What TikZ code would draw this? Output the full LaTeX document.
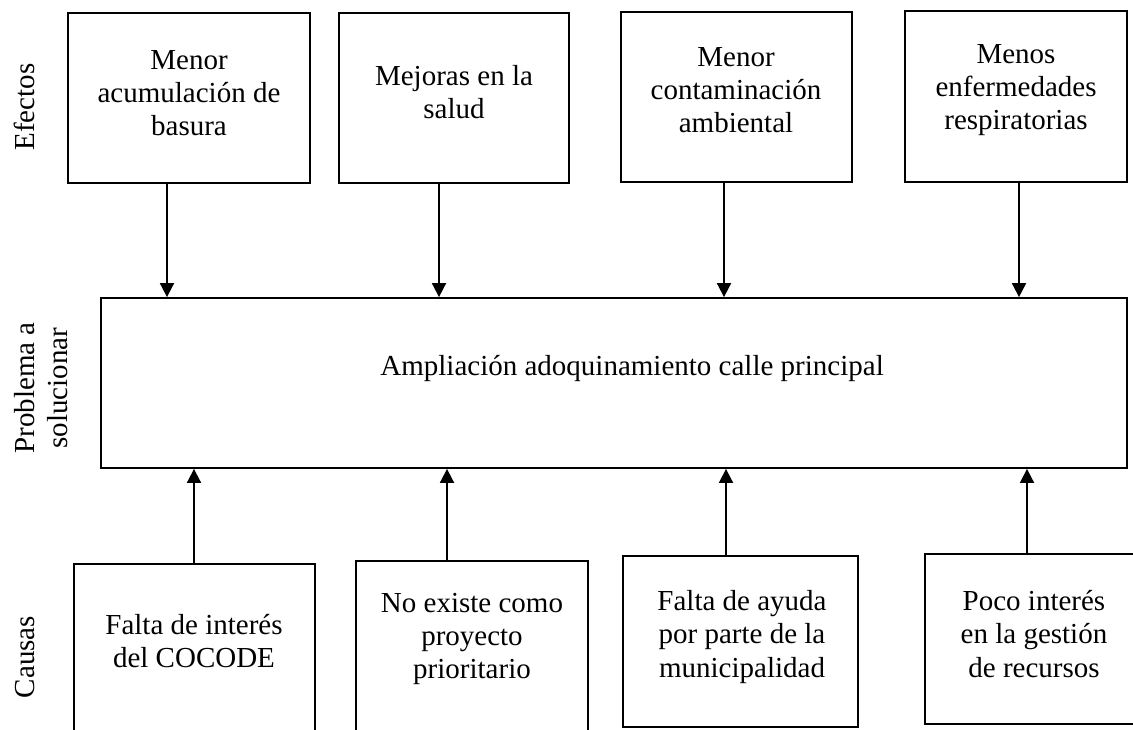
\documentclass[tikz,border=0pt]{standalone}
\usepackage{fontspec}
\setmainfont{Liberation Serif}
\usetikzlibrary{arrows.meta}
\begin{document}
\begin{tikzpicture}[x=0.5pt,y=-0.5pt,
  boxst/.style={draw, line width=0.9pt, inner sep=0pt},
  txt/.style={align=center, font=\fontsize{14.5}{16.6}\selectfont, inner sep=0pt},
  side/.style={align=center, font=\fontsize{14.5}{16.5}\selectfont, inner sep=0pt, rotate=90},
  arr/.style={line width=0.9pt, -{Triangle[length=7pt,width=7pt]}}]
\useasboundingbox (0,0) rectangle (1133,729);
\newcommand{\mkbox}[5]{\node[boxst, minimum width={(#4-#2)*0.5pt}, minimum height={(#5-#3)*0.5pt}] (#1) at ({(#2+#4)/2},{(#3+#5)/2}) {};}
\mkbox{b1}{68}{13}{310}{183}
\mkbox{b2}{339}{13}{569}{183}
\mkbox{b3}{621}{12}{852}{182}
\mkbox{b4}{905}{11}{1127}{182}
\mkbox{main}{101}{298}{1127}{468}
\mkbox{c1}{74}{564}{315}{760}
\mkbox{c2}{356}{561}{588}{760}
\mkbox{c3}{623}{556}{858}{727}
\mkbox{c4}{925}{554}{1145}{724}
% texts
\node[txt] (t1) at (189,93) {Menor\\acumulación de\\basura};
\node[txt] (t2) at (454,92) {Mejoras en la\\salud};
\node[txt] (t3) at (736,90) {Menor\\contaminación\\ambiental};
\node[txt] (t4) at (1016,90) {Menos\\enfermedades\\respiratorias};
\node[txt, anchor=base west] (tm) at (380,375) {Ampliación adoquinamiento calle principal};
\node[txt] (s1) at (194,641) {Falta de interés\\del COCODE};
\node[txt] (s2) at (472,639) {No existe como\\proyecto\\prioritario};
\node[txt] (s3) at (742,637) {Falta de ayuda\\por parte de la\\municipalidad};
\node[txt] (s4) at (1034,634) {Poco interés\\en la gestión\\de recursos};
% side labels
\node[side] (lef) at (24,107) {Efectos};
\node[side] (lpr) at (41,388) {Problema a\\solucionar};
\node[side] (lca) at (25,657) {Causas};
% arrow x positions
\coordinate (x1) at (167,0);
\coordinate (x2) at (439,0);
\coordinate (x3) at (724,0);
\coordinate (x4) at (1019,0);
\coordinate (y1) at (194,0);
\coordinate (y2) at (447,0);
\coordinate (y3) at (726,0);
\coordinate (y4) at (1027,0);
\draw[arr] (b1.south -| x1) -- (main.north -| x1);
\draw[arr] (b2.south -| x2) -- (main.north -| x2);
\draw[arr] (b3.south -| x3) -- (main.north -| x3);
\draw[arr] (b4.south -| x4) -- (main.north -| x4);
\draw[arr] (c1.north -| y1) -- (main.south -| y1);
\draw[arr] (c2.north -| y2) -- (main.south -| y2);
\draw[arr] (c3.north -| y3) -- (main.south -| y3);
\draw[arr] (c4.north -| y4) -- (main.south -| y4);
\end{tikzpicture}
\end{document}
